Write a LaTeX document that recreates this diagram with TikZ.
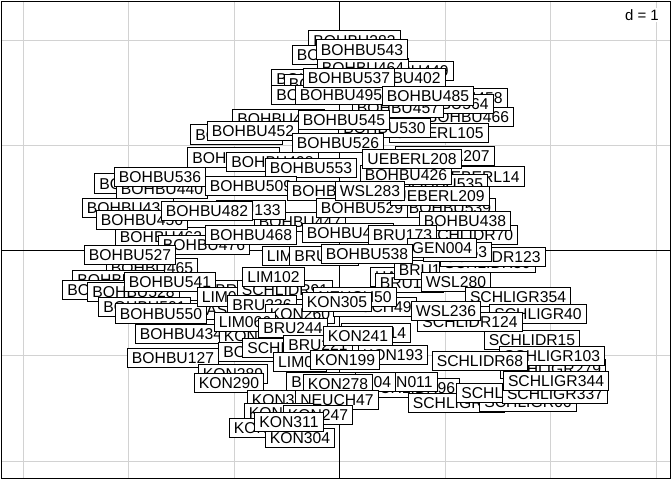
\documentclass[tikz,border=0pt]{standalone}
\usepackage{fontspec}
\setmainfont{Liberation Sans}
\usepackage{tikz}

\begin{document}
\begin{tikzpicture}[
    x=1pt, y=-1pt,
    site/.style={draw, fill=white, line width=1pt, inner xsep=4.5pt, inner ysep=3.9pt,
        text height=11.3pt, text depth=0pt, font=\fontsize{15.7}{18}\selectfont},
    gridline/.style={draw=gray!35, line width=1pt},
    axisline/.style={draw=black, line width=1pt}
]
    \useasboundingbox (0,0) rectangle (672,480);

    % Grid
    \foreach \gx in {23,128.5,234,445,550.5,656}
        \draw [gridline] (\gx,1.5) -- (\gx,478.5);
    \foreach \gy in {40.3,145.5,355.9,461.1}
        \draw [gridline] (1.5,\gy) -- (670.5,\gy);

    % Axes
    \draw [axisline] (339.5,1.5) -- (339.5,478.5);
    \draw [axisline] (1.5,250.7) -- (670.5,250.7);

    % Labels, top
    \foreach \lab/\px/\py in {BOHBU383/354.5/40.5, BOHBU493/338/55, BOHBU449/407.5/71, BOHBU464/363/68,
        BOHBU531/317.5/79, BOHBU516/330/84, BOHBU402/399.5/78, BOHBU497/317.5/95, BOHBU543/362/49.5,
        BOHBU466/468/117, BOHBU458/461.5/98, BOHBU564/447.5/104, BOHBU457/398/108, BOHBU495/341/95,
        BOHBU537/349/78, BOHBU485/428/96, BOHBU471/278.5/119, UEBERL105/439/133,
        BOHBU530/384.5/128, BOHBU545/344/120} {
        \node [site] (\lab) at (\px,\py) {\lab};
    }

    % Labels, upper middle
    \foreach \lab/\px/\py in {BOHBU489/236.5/134.5, BOHBU452/253/131, BOHBU473/233.5/157.5,
        BOHBU498/272.5/162, BOHBU526/338/143, UEBERL207/445/156, UEBERL14/479.5/176.5,
        BOHBU535/442/184, BOHBU426/406/175, UEBERL208/412/159, BOHBU553/311/168} {
        \node [site] (\lab) at (\px,\py) {\lab};
    }

    % Labels, middle
    \foreach \lab/\px/\py in {BOHBU447/300/222, BOHBU512/140.5/183.5, BOHBU440/162/189,
        BOHBU536/160/177, BOHBU509/251/186, BOHBU441/333/191, BOHBU539/450/208, BOHBU529/362/208,
        UEBERL209/440/196, SCHLIDR70/470/235, BOHBU438/465/221, WSL283/370/191, BOHBU431/128/208,
        BOHBU462/161/237, BOHBU456/142/220, BRU133/251/210, BOHBU482/207/211, BOHBU476/204/245,
        BOHBU468/251/235, BOHBU479/348/233} {
        \node [site] (\lab) at (\px,\py) {\lab};
    }

    % Labels, lower left
    \foreach \lab/\px/\py in {BOHBU465/152/268, BOHBU527/130/255, BOHBU519/118.5/280,
        BOHBU506/108.5/290, BOHBU528/133.5/292, BRU145/245/290, BOHBU541/170/282, BOHBU501/144.5/307,
        HAS43/220/310, BOHBU550/161/313.5, BOHBU434/181/334, KON312/254/336, BOHBU127/173/358} {
        \node [site] (\lab) at (\px,\py) {\lab};
    }

    % Labels, centre
    \foreach \lab/\px/\py in {LIM117/292.5/256, BRU161/324/256, LIM071/228/297, SCHLIDR91/285/290,
        LIM102/273.5/277, BRU236/262/305, KON260/300/314, LIM066/245/322, BRU244/293/328,
        HAS31/400/277, BRU168/409.5/283, BRU155/428.5/270, SCHLIDR30/487.5/263, SCHLIDR123/493/257,
        BRU153/457.5/252, BRU173/402.5/235, GEN004/442/248, BOHBU538/367/254, WSL280/456/282,
        SCHLIGR354/518/297, NEUCH49/375/307, NEUCH50/355/297, KON305/337/302, SCHLIGR40/538/314,
        SCHLIDR15/532/340, SCHLIDR124/470/322, WSL236/446/311} {
        \node [site] (\lab) at (\px,\py) {\lab};
    }

    % Labels, lower middle
    \foreach \lab/\px/\py in {BOHBU129/264.5/352, SCHLIGR52/291/348, BRU221/318/345,
        KON214/376/333, KON241/358/336, LIM09/300/362, KON193/393/355, KON199/345/360,
        KON289/233/374, KON290/229/383, SCHLIDR96/412/388, KON011/403/382, KON204/361/382,
        BRU286/321/382, KON278/338/384} {
        \node [site] (\lab) at (\px,\py) {\lab};
    }

    % Labels, bottom
    \foreach \lab/\px/\py in {KON323/282/400, NEUCH47/337/400, KON318/279/413, KON247/318/415,
        KON301/264/428, KON304/300/438, KON311/289/422} {
        \node [site] (\lab) at (\px,\py) {\lab};
    }

    % Labels, lower right
    \foreach \lab/\px/\py in {SCHLIGR279/553/369, SCHLIGR103/552/356, SCHLIDR68/480/361,
        SCHLIGR72/456.5/403, SCHLIGR66/528/402, SCHLIGR21/505/393, SCHLIGR337/555/394,
        SCHLIGR344/556/381} {
        \node [site] (\lab) at (\px,\py) {\lab};
    }

    % Scale
    \node [fill=white, inner xsep=4pt, inner ysep=1.5pt, anchor=base east,
        font=\fontsize{15}{18}\selectfont] (scale) at (663,20) {d = 1};

    % Frame
    \draw [line width=1.2pt] (1.5,1.5) rectangle (670.5,478.5);
\end{tikzpicture}
\end{document}
